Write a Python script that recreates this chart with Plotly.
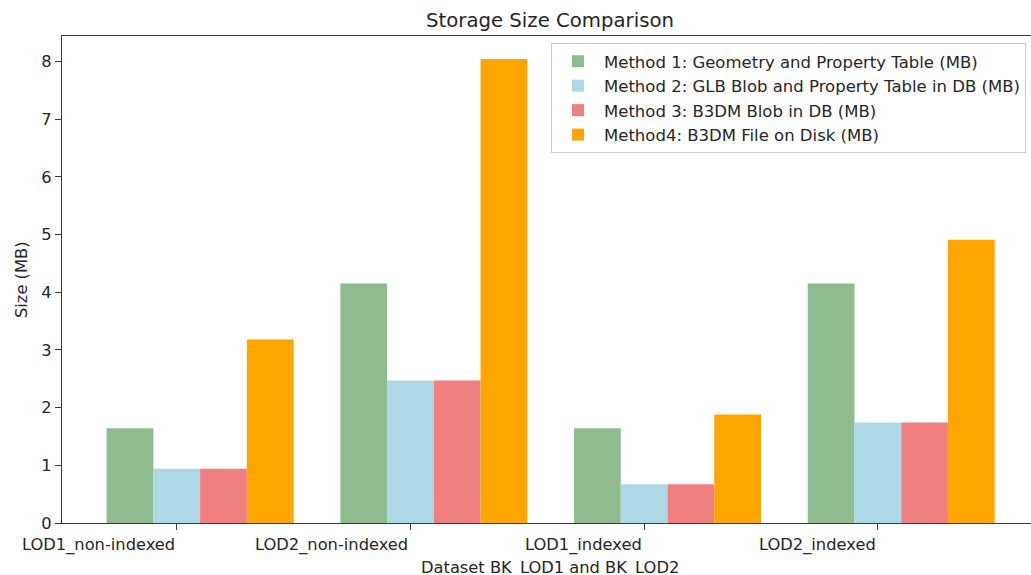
import plotly.graph_objects as go

# Storage sizes (MB) per dataset variant and storage method
datasets = ["LOD1_non-indexed", "LOD2_non-indexed", "LOD1_indexed", "LOD2_indexed"]
method_names = [
    "Method 1: Geometry and Property Table (MB)",
    "Method 2: GLB Blob and Property Table in DB (MB)",
    "Method 3: B3DM Blob in DB (MB)",
    "Method4: B3DM File on Disk (MB)",
]
method1_sizes = [1.64, 4.15, 1.64, 4.15]
method2_sizes = [0.94, 2.47, 0.67, 1.74]
method3_sizes = [0.94, 2.47, 0.67, 1.74]
method4_sizes = [3.18, 8.04, 1.88, 4.91]
bar_colors = ["#8FBC8F", "#ADD8E6", "#F08080", "#FFA500"]

FONT = "DejaVu Sans"
TEXT = "#262626"
AXIS = "#3a3a3a"
BAR_W = 0.2

W, H = 1031, 575
ML, MR, MT, MB = 62, 0, 36, 52
plot_w = W - ML - MR
plot_h = H - MT - MB


def px_to_paper_x(px):
    return (px - ML) / plot_w


def px_to_paper_y(py):
    return (H - MB - py) / plot_h


group_pos = list(range(len(datasets)))
series = [method1_sizes, method2_sizes, method3_sizes, method4_sizes]

fig = go.Figure()
for k, (name, vals, col) in enumerate(zip(method_names, series, bar_colors)):
    fig.add_trace(go.Bar(
        x=[g + k * BAR_W for g in group_pos],
        y=vals,
        width=BAR_W,
        name=name,
        legendgroup=f"m{k}",
        marker=dict(color=col, line=dict(width=0)),
    ))

tick_pos = [g + BAR_W for g in group_pos]

# category labels, right-aligned to their tick marks
annotations = []
for x, label in zip(tick_pos, datasets):
    annotations.append(dict(
        x=x, y=0, xref="x", yref="paper",
        xanchor="right", yanchor="top", yshift=-10,
        text=label, showarrow=False,
        font=dict(family=FONT, size=16.3, color=TEXT),
    ))

# axis titles
annotations.append(dict(
    x=px_to_paper_x(550), y=px_to_paper_y(580), xref="paper", yref="paper",
    xanchor="center", yanchor="bottom",
    text="Dataset BK_LOD1 and BK_LOD2", showarrow=False,
    font=dict(family=FONT, size=16.3, color=TEXT),
))
annotations.append(dict(
    x=px_to_paper_x(21.5), y=0.5, xref="paper", yref="paper",
    xanchor="center", yanchor="middle", textangle=-90,
    text="Size (MB)", showarrow=False,
    font=dict(family=FONT, size=16.3, color=TEXT),
))

fig.update_layout(
    width=W, height=H,
    margin=dict(l=ML, r=MR, t=MT, b=MB),
    paper_bgcolor="white", plot_bgcolor="white",
    barmode="overlay",
    font=dict(family=FONT, size=16, color=TEXT),
    title=dict(
        text="Storage Size Comparison",
        x=px_to_paper_x(550), xref="paper", xanchor="center",
        y=1 - 20 / H, yref="container", yanchor="middle",
        font=dict(family=FONT, size=19.7, color=TEXT),
    ),
    xaxis=dict(
        range=[-0.291, -0.291 + plot_w / 233.7],
        tickvals=tick_pos, showticklabels=False,
        ticks="outside", ticklen=6, tickwidth=1.2, tickcolor=AXIS,
        showline=True, linecolor=AXIS, linewidth=1.2, mirror=True,
        showgrid=False, zeroline=False,
    ),
    yaxis=dict(
        range=[0, 8.44],
        tickvals=list(range(0, 9)),
        ticks="outside", ticklen=6, tickwidth=1.2, tickcolor=AXIS,
        tickfont=dict(family=FONT, size=16.3, color=TEXT),
        showline=True, linecolor=AXIS, linewidth=1.2, mirror=False,
        showgrid=False, zeroline=False,
    ),
    legend=dict(
        x=px_to_paper_x(1026), y=px_to_paper_y(43),
        xanchor="right", yanchor="top",
        bgcolor="rgba(255,255,255,0.85)", bordercolor="#cccccc", borderwidth=1,
        font=dict(family=FONT, size=16.5, color=TEXT),
        itemwidth=42,
        tracegroupgap=2, traceorder="normal",
    ),
    annotations=annotations,
    showlegend=True,
)

fig.write_html("out.html")
